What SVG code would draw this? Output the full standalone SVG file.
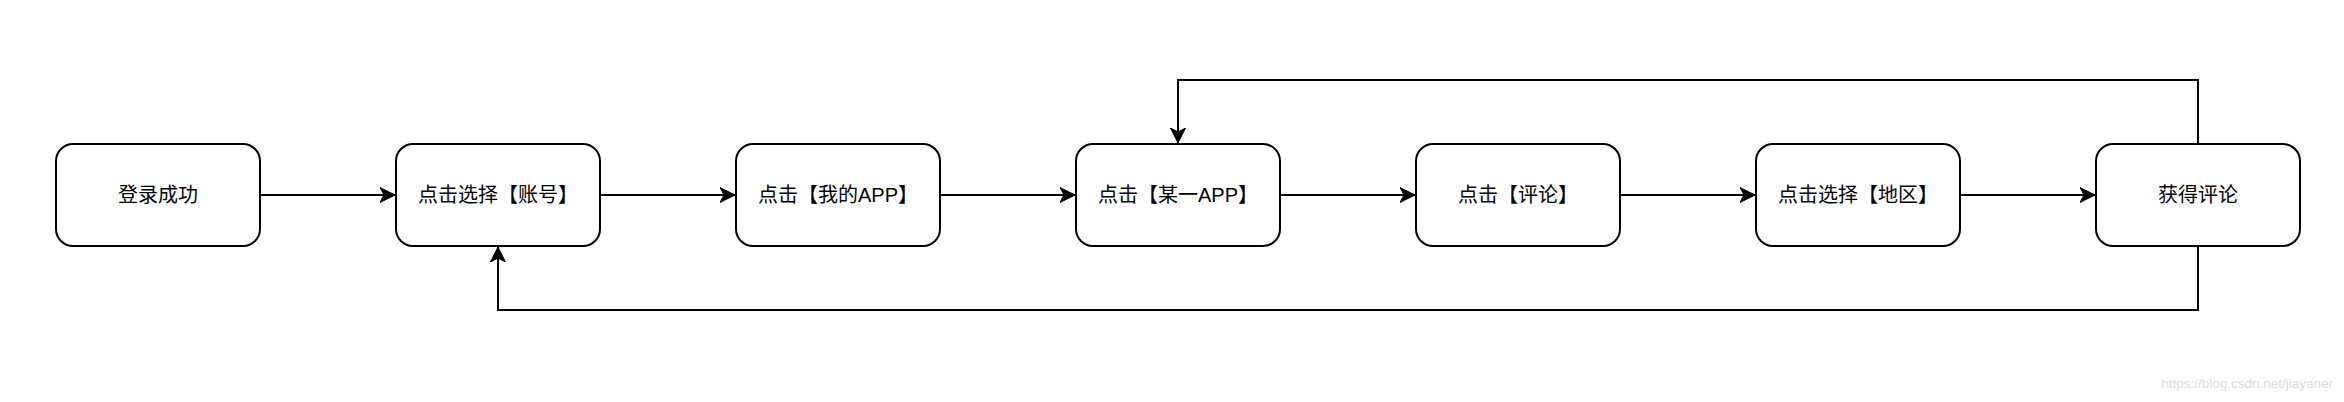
<svg xmlns="http://www.w3.org/2000/svg" width="2344" height="402" viewBox="0 0 2344 402">
  <style>
    .node rect { fill: #ffffff; stroke: #000000; stroke-width: 2; }
    .node text { font-family: "Liberation Sans", "Noto Sans CJK SC", sans-serif; font-size: 20px; fill: #000000; text-anchor: middle; dominant-baseline: central; }
    .edge { fill: none; stroke: #000000; stroke-width: 2; }
    .wm { font-family: "Liberation Sans", "Noto Sans", sans-serif; font-size: 13.5px; fill: #dcdcdc; }
  </style>
  <defs>
    <marker id="arrow" markerUnits="userSpaceOnUse" markerWidth="16" markerHeight="16" viewBox="0 0 16 16" refX="15" refY="8" orient="auto">
      <path d="M0,0.5 L15,8 L0,15.5 L4,8 Z" fill="#000000" stroke="#000000" stroke-width="1"/>
    </marker>
  </defs>
  <rect width="2344" height="402" fill="#ffffff"/>
  <g id="connectors">
    <path class="edge" d="M260,195 L395,195" marker-end="url(#arrow)"/>
    <path class="edge" d="M600,195 L735,195" marker-end="url(#arrow)"/>
    <path class="edge" d="M940,195 L1075,195" marker-end="url(#arrow)"/>
    <path class="edge" d="M1280,195 L1415,195" marker-end="url(#arrow)"/>
    <path class="edge" d="M1620,195 L1755,195" marker-end="url(#arrow)"/>
    <path class="edge" d="M1960,195 L2095,195" marker-end="url(#arrow)"/>
    <path class="edge" d="M2198,144 L2198,80 L1178,80 L1178,143" marker-end="url(#arrow)"/>
    <path class="edge" d="M2198,246 L2198,310 L498,310 L498,247" marker-end="url(#arrow)"/>
  </g>
  <g id="node1" class="node"><rect x="56" y="144" width="204" height="102" rx="17"/><text x="158" y="195">登录成功</text></g>
  <g id="node2" class="node"><rect x="396" y="144" width="204" height="102" rx="17"/><text x="498" y="195">点击选择【账号】</text></g>
  <g id="node3" class="node"><rect x="736" y="144" width="204" height="102" rx="17"/><text x="838" y="195">点击【我的APP】</text></g>
  <g id="node4" class="node"><rect x="1076" y="144" width="204" height="102" rx="17"/><text x="1178" y="195">点击【某一APP】</text></g>
  <g id="node5" class="node"><rect x="1416" y="144" width="204" height="102" rx="17"/><text x="1518" y="195">点击【评论】</text></g>
  <g id="node6" class="node"><rect x="1756" y="144" width="204" height="102" rx="17"/><text x="1858" y="195">点击选择【地区】</text></g>
  <g id="node7" class="node"><rect x="2096" y="144" width="204" height="102" rx="17"/><text x="2198" y="195">获得评论</text></g>
  <text class="wm" x="2333" y="388" text-anchor="end">https://blog.csdn.net/jiayaner</text>
</svg>
